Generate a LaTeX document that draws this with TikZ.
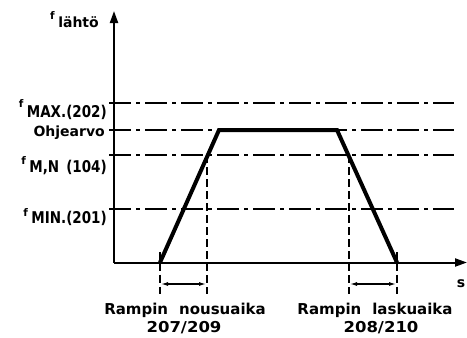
\documentclass[tikz,border=0pt]{standalone}
\usepackage{fontspec}
\setmainfont{DejaVu Sans}
\usetikzlibrary{arrows.meta}
\newcommand{\fsmall}[1]{\raisebox{#1}{\fontsize{10.5}{12}\selectfont f}\hspace{3.5pt}}
\newcommand{\tallsub}[1]{\scalebox{1}[1.2]{\fontsize{13.5}{15}\selectfont #1}}
\begin{document}
\begin{tikzpicture}[x=1pt,y=-1pt,
  lbl/.style={font=\fontsize{14}{16}\bfseries\selectfont, inner sep=0pt},
  blbl/.style={font=\fontsize{15}{17}\bfseries\selectfont, inner sep=0pt},
  axis/.style={line width=2pt},
  guide/.style={line width=1.5pt, dash pattern=on 22pt off 5pt on 4pt off 5pt},
  vdash/.style={line width=1.4pt, dash pattern=on 8pt off 4pt},
  ramp/.style={line width=4pt, line join=miter},
  dim/.style={line width=1.2pt, {Latex[length=7pt,width=4pt]}-{Latex[length=7pt,width=4pt]}}]
\useasboundingbox (0,0) rectangle (467,338);
% axes
\coordinate (O) at (114,262.5);
\coordinate (ytop) at (114,11);
\coordinate (xend) at (467,262.5);
\draw[axis,-{Triangle[length=12pt,width=8pt]}] (O) -- (ytop);
\draw[axis,-{Triangle[length=12pt,width=8pt]}] (O) -- (xend);
% guide lines
\coordinate (gmaxL) at (109,103); \coordinate (gmaxR) at (454,103);
\coordinate (grefL) at (109,130); \coordinate (grefR) at (454,130);
\coordinate (gmnL) at (109,155);  \coordinate (gmnR) at (454,155);
\coordinate (gminL) at (109,209); \coordinate (gminR) at (454,209);
\draw[guide] (gmaxL) -- (gmaxR);
\draw[guide] (grefL) -- (grefR);
\draw[guide] (gmnL) -- (gmnR);
\draw[guide] (gminL) -- (gminR);
% ramp
\coordinate (r0) at (160,262.5);
\coordinate (r1) at (219,130);
\coordinate (r2) at (337,130);
\coordinate (r3) at (397,262.5);
\draw[ramp] (r0) -- (r1) -- (r2) -- (r3);
\draw[line width=1.4pt] (160,252) -- (r0);
\draw[line width=1.4pt] (397,252) -- (r3);
% vertical dashed
\coordinate (a1) at (160,262.5); \coordinate (a1b) at (160,294);
\coordinate (a2) at (207,155);   \coordinate (a2b) at (207,294);
\coordinate (b1) at (349,155);   \coordinate (b1b) at (349,294);
\coordinate (b2) at (397,262.5); \coordinate (b2b) at (397,294);
\draw[vdash] (a1) -- (a1b);
\draw[vdash] (a2) -- (a2b);
\draw[vdash] (b1) -- (b1b);
\draw[vdash] (b2) -- (b2b);
% dimension arrows
\coordinate (d1) at (161,284); \coordinate (d2) at (206,284);
\coordinate (d3) at (350,284); \coordinate (d4) at (396,284);
\draw[dim] (d1) -- (d2);
\draw[dim] (d3) -- (d4);
% labels
\node[lbl, anchor=base west] (fl) at (50,27) {\fsmall{8pt}lähtö};
\node[lbl, anchor=base east] (lmax) at (107,117) {\fsmall{10pt}\tallsub{MAX.(202)}};
\node[lbl, anchor=base east] (lref) at (105,136) {Ohjearvo};
\node[lbl, anchor=base east] (lmn) at (107,172) {\fsmall{8pt}\tallsub{M,N\hspace{7pt}(104)}};
\node[lbl, anchor=base east] (lmin) at (107,223) {\fsmall{7pt}\tallsub{MIN.(201)}};
\node[lbl, anchor=base] (ls) at (461,287) {s};
\node[blbl, anchor=base] (lr1) at (185,314) {Rampin\hspace{11pt}nousuaika};
\node[blbl, anchor=base] (lr1b) at (184,332) {\scalebox{1.1}[1]{207/209}};
\node[blbl, anchor=base] (lr2) at (375,314) {Rampin\hspace{11pt}laskuaika};
\node[blbl, anchor=base] (lr2b) at (381,332) {\scalebox{1.1}[1]{208/210}};
\end{tikzpicture}
\end{document}
